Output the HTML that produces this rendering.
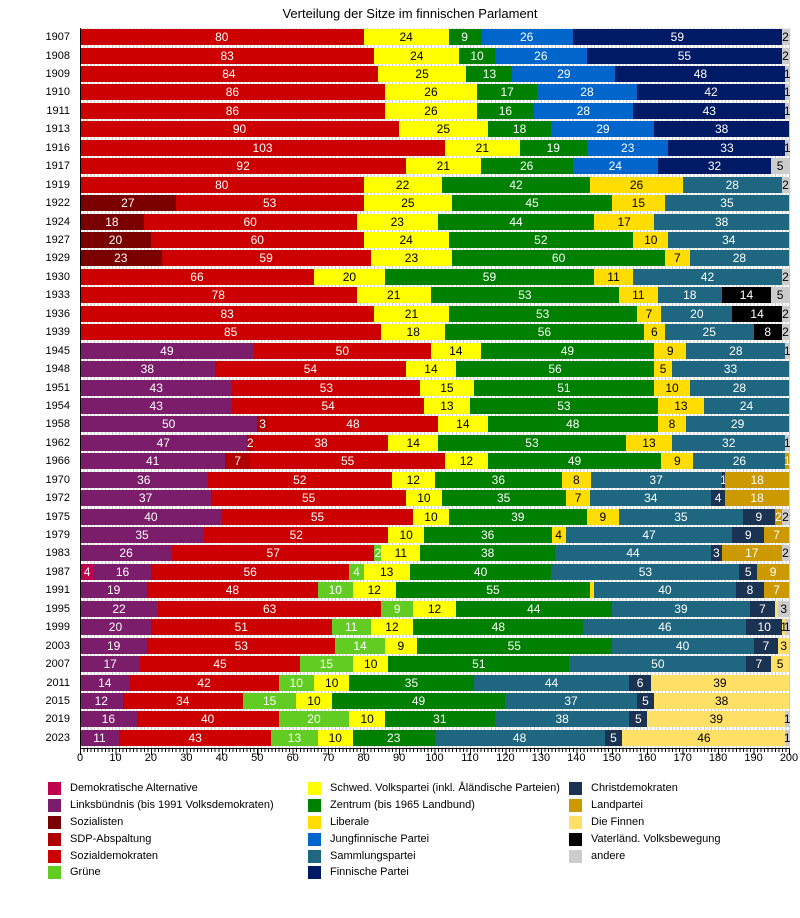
<!DOCTYPE html>
<html><head><meta charset="utf-8">
<style>
body{margin:0;width:800px;height:918px;background:#fff;font-family:"Liberation Sans",sans-serif;position:relative;overflow:hidden}
.t{position:absolute;top:6px;left:0;width:820px;text-align:center;font-size:13px}
.grid{position:absolute;left:80px;top:28px;width:710px;height:720px;background:repeating-linear-gradient(to right,#ccc 0 1px,transparent 1px 3.545px)}
.r{position:absolute;left:80px;width:709px;height:16px;display:flex}
.r i{font-style:normal;flex-basis:0;min-width:0;display:flex;justify-content:center;white-space:nowrap;overflow:visible;font-size:12px;line-height:16px;color:#fff}
.y{position:absolute;right:730px;font-size:11px;line-height:16px;color:#000}
.DA{background:#c0004f}.LB{background:#7b1d6b}.SO{background:#7a0000}.SP{background:#b00000}.SD{background:#cc0000}
.GR{background:#62cc22}.SW{background:#ffff00;color:#000!important}.ZE{background:#008000}.LI{background:#ffdd00;color:#000!important}
.JF{background:#0066cc}.SA{background:#1f6680}.FP{background:#001a66}.CD{background:#1b3352}.LP{background:#cc9900}
.FI{background:#ffe066;color:#000!important}.VV{background:#000}.AN{background:#ccc;color:#000!important}
.ax{position:absolute;left:80px;top:748px;width:710px;height:1px;background:#000}
.mt{position:absolute;left:80px;top:748px;width:712px;height:4px;background:repeating-linear-gradient(to right,#000 0 1px,transparent 1px 3.545px)}
.Mt{position:absolute;left:80px;top:748px;width:712px;height:7px;background:repeating-linear-gradient(to right,#000 0 1px,transparent 1px 35.45px)}
.xl{position:absolute;top:752px;width:30px;margin-left:-15px;text-align:center;font-size:11px}
.lg{position:absolute;font-size:11px;line-height:13px}
.lg b{position:absolute;left:0;top:0;width:13px;height:13px}
.lg span{position:absolute;left:22px;top:0;white-space:nowrap}
</style></head><body>
<div class="t">Verteilung der Sitze im finnischen Parlament</div>
<div class="grid"></div>

<div class="y" style="top:29px">1907</div><div class="r" style="top:29px"><i class="SD" style="flex-grow:80">80</i><i class="SW" style="flex-grow:24">24</i><i class="ZE" style="flex-grow:9">9</i><i class="JF" style="flex-grow:26">26</i><i class="FP" style="flex-grow:59">59</i><i class="AN" style="flex-grow:2">2</i></div>
<div class="y" style="top:47.5px">1908</div><div class="r" style="top:47.5px"><i class="SD" style="flex-grow:83">83</i><i class="SW" style="flex-grow:24">24</i><i class="ZE" style="flex-grow:10">10</i><i class="JF" style="flex-grow:26">26</i><i class="FP" style="flex-grow:55">55</i><i class="AN" style="flex-grow:2">2</i></div>
<div class="y" style="top:66px">1909</div><div class="r" style="top:66px"><i class="SD" style="flex-grow:84">84</i><i class="SW" style="flex-grow:25">25</i><i class="ZE" style="flex-grow:13">13</i><i class="JF" style="flex-grow:29">29</i><i class="FP" style="flex-grow:48">48</i><i class="AN" style="flex-grow:1">1</i></div>
<div class="y" style="top:84.4px">1910</div><div class="r" style="top:84.4px"><i class="SD" style="flex-grow:86">86</i><i class="SW" style="flex-grow:26">26</i><i class="ZE" style="flex-grow:17">17</i><i class="JF" style="flex-grow:28">28</i><i class="FP" style="flex-grow:42">42</i><i class="AN" style="flex-grow:1">1</i></div>
<div class="y" style="top:102.8px">1911</div><div class="r" style="top:102.8px"><i class="SD" style="flex-grow:86">86</i><i class="SW" style="flex-grow:26">26</i><i class="ZE" style="flex-grow:16">16</i><i class="JF" style="flex-grow:28">28</i><i class="FP" style="flex-grow:43">43</i><i class="AN" style="flex-grow:1">1</i></div>
<div class="y" style="top:121.3px">1913</div><div class="r" style="top:121.3px"><i class="SD" style="flex-grow:90">90</i><i class="SW" style="flex-grow:25">25</i><i class="ZE" style="flex-grow:18">18</i><i class="JF" style="flex-grow:29">29</i><i class="FP" style="flex-grow:38">38</i></div>
<div class="y" style="top:139.7px">1916</div><div class="r" style="top:139.7px"><i class="SD" style="flex-grow:103">103</i><i class="SW" style="flex-grow:21">21</i><i class="ZE" style="flex-grow:19">19</i><i class="JF" style="flex-grow:23">23</i><i class="FP" style="flex-grow:33">33</i><i class="AN" style="flex-grow:1">1</i></div>
<div class="y" style="top:158.2px">1917</div><div class="r" style="top:158.2px"><i class="SD" style="flex-grow:92">92</i><i class="SW" style="flex-grow:21">21</i><i class="ZE" style="flex-grow:26">26</i><i class="JF" style="flex-grow:24">24</i><i class="FP" style="flex-grow:32">32</i><i class="AN" style="flex-grow:5">5</i></div>
<div class="y" style="top:176.6px">1919</div><div class="r" style="top:176.6px"><i class="SD" style="flex-grow:80">80</i><i class="SW" style="flex-grow:22">22</i><i class="ZE" style="flex-grow:42">42</i><i class="LI" style="flex-grow:26">26</i><i class="SA" style="flex-grow:28">28</i><i class="AN" style="flex-grow:2">2</i></div>
<div class="y" style="top:195px">1922</div><div class="r" style="top:195px"><i class="SO" style="flex-grow:27">27</i><i class="SD" style="flex-grow:53">53</i><i class="SW" style="flex-grow:25">25</i><i class="ZE" style="flex-grow:45">45</i><i class="LI" style="flex-grow:15">15</i><i class="SA" style="flex-grow:35">35</i></div>
<div class="y" style="top:213.5px">1924</div><div class="r" style="top:213.5px"><i class="SO" style="flex-grow:18">18</i><i class="SD" style="flex-grow:60">60</i><i class="SW" style="flex-grow:23">23</i><i class="ZE" style="flex-grow:44">44</i><i class="LI" style="flex-grow:17">17</i><i class="SA" style="flex-grow:38">38</i></div>
<div class="y" style="top:232px">1927</div><div class="r" style="top:232px"><i class="SO" style="flex-grow:20">20</i><i class="SD" style="flex-grow:60">60</i><i class="SW" style="flex-grow:24">24</i><i class="ZE" style="flex-grow:52">52</i><i class="LI" style="flex-grow:10">10</i><i class="SA" style="flex-grow:34">34</i></div>
<div class="y" style="top:250.4px">1929</div><div class="r" style="top:250.4px"><i class="SO" style="flex-grow:23">23</i><i class="SD" style="flex-grow:59">59</i><i class="SW" style="flex-grow:23">23</i><i class="ZE" style="flex-grow:60">60</i><i class="LI" style="flex-grow:7">7</i><i class="SA" style="flex-grow:28">28</i></div>
<div class="y" style="top:268.8px">1930</div><div class="r" style="top:268.8px"><i class="SD" style="flex-grow:66">66</i><i class="SW" style="flex-grow:20">20</i><i class="ZE" style="flex-grow:59">59</i><i class="LI" style="flex-grow:11">11</i><i class="SA" style="flex-grow:42">42</i><i class="AN" style="flex-grow:2">2</i></div>
<div class="y" style="top:287.3px">1933</div><div class="r" style="top:287.3px"><i class="SD" style="flex-grow:78">78</i><i class="SW" style="flex-grow:21">21</i><i class="ZE" style="flex-grow:53">53</i><i class="LI" style="flex-grow:11">11</i><i class="SA" style="flex-grow:18">18</i><i class="VV" style="flex-grow:14">14</i><i class="AN" style="flex-grow:5">5</i></div>
<div class="y" style="top:305.7px">1936</div><div class="r" style="top:305.7px"><i class="SD" style="flex-grow:83">83</i><i class="SW" style="flex-grow:21">21</i><i class="ZE" style="flex-grow:53">53</i><i class="LI" style="flex-grow:7">7</i><i class="SA" style="flex-grow:20">20</i><i class="VV" style="flex-grow:14">14</i><i class="AN" style="flex-grow:2">2</i></div>
<div class="y" style="top:324.1px">1939</div><div class="r" style="top:324.1px"><i class="SD" style="flex-grow:85">85</i><i class="SW" style="flex-grow:18">18</i><i class="ZE" style="flex-grow:56">56</i><i class="LI" style="flex-grow:6">6</i><i class="SA" style="flex-grow:25">25</i><i class="VV" style="flex-grow:8">8</i><i class="AN" style="flex-grow:2">2</i></div>
<div class="y" style="top:342.6px">1945</div><div class="r" style="top:342.6px"><i class="LB" style="flex-grow:49">49</i><i class="SD" style="flex-grow:50">50</i><i class="SW" style="flex-grow:14">14</i><i class="ZE" style="flex-grow:49">49</i><i class="LI" style="flex-grow:9">9</i><i class="SA" style="flex-grow:28">28</i><i class="AN" style="flex-grow:1">1</i></div>
<div class="y" style="top:361px">1948</div><div class="r" style="top:361px"><i class="LB" style="flex-grow:38">38</i><i class="SD" style="flex-grow:54">54</i><i class="SW" style="flex-grow:14">14</i><i class="ZE" style="flex-grow:56">56</i><i class="LI" style="flex-grow:5">5</i><i class="SA" style="flex-grow:33">33</i></div>
<div class="y" style="top:379.5px">1951</div><div class="r" style="top:379.5px"><i class="LB" style="flex-grow:43">43</i><i class="SD" style="flex-grow:53">53</i><i class="SW" style="flex-grow:15">15</i><i class="ZE" style="flex-grow:51">51</i><i class="LI" style="flex-grow:10">10</i><i class="SA" style="flex-grow:28">28</i></div>
<div class="y" style="top:397.9px">1954</div><div class="r" style="top:397.9px"><i class="LB" style="flex-grow:43">43</i><i class="SD" style="flex-grow:54">54</i><i class="SW" style="flex-grow:13">13</i><i class="ZE" style="flex-grow:53">53</i><i class="LI" style="flex-grow:13">13</i><i class="SA" style="flex-grow:24">24</i></div>
<div class="y" style="top:416.3px">1958</div><div class="r" style="top:416.3px"><i class="LB" style="flex-grow:50">50</i><i class="SP" style="flex-grow:3">3</i><i class="SD" style="flex-grow:48">48</i><i class="SW" style="flex-grow:14">14</i><i class="ZE" style="flex-grow:48">48</i><i class="LI" style="flex-grow:8">8</i><i class="SA" style="flex-grow:29">29</i></div>
<div class="y" style="top:434.8px">1962</div><div class="r" style="top:434.8px"><i class="LB" style="flex-grow:47">47</i><i class="SP" style="flex-grow:2">2</i><i class="SD" style="flex-grow:38">38</i><i class="SW" style="flex-grow:14">14</i><i class="ZE" style="flex-grow:53">53</i><i class="LI" style="flex-grow:13">13</i><i class="SA" style="flex-grow:32">32</i><i class="AN" style="flex-grow:1">1</i></div>
<div class="y" style="top:453.2px">1966</div><div class="r" style="top:453.2px"><i class="LB" style="flex-grow:41">41</i><i class="SP" style="flex-grow:7">7</i><i class="SD" style="flex-grow:55">55</i><i class="SW" style="flex-grow:12">12</i><i class="ZE" style="flex-grow:49">49</i><i class="LI" style="flex-grow:9">9</i><i class="SA" style="flex-grow:26">26</i><i class="LP" style="flex-grow:1">1</i></div>
<div class="y" style="top:471.7px">1970</div><div class="r" style="top:471.7px"><i class="LB" style="flex-grow:36">36</i><i class="SD" style="flex-grow:52">52</i><i class="SW" style="flex-grow:12">12</i><i class="ZE" style="flex-grow:36">36</i><i class="LI" style="flex-grow:8">8</i><i class="SA" style="flex-grow:37">37</i><i class="CD" style="flex-grow:1">1</i><i class="LP" style="flex-grow:18">18</i></div>
<div class="y" style="top:490.1px">1972</div><div class="r" style="top:490.1px"><i class="LB" style="flex-grow:37">37</i><i class="SD" style="flex-grow:55">55</i><i class="SW" style="flex-grow:10">10</i><i class="ZE" style="flex-grow:35">35</i><i class="LI" style="flex-grow:7">7</i><i class="SA" style="flex-grow:34">34</i><i class="CD" style="flex-grow:4">4</i><i class="LP" style="flex-grow:18">18</i></div>
<div class="y" style="top:508.6px">1975</div><div class="r" style="top:508.6px"><i class="LB" style="flex-grow:40">40</i><i class="SD" style="flex-grow:54">55</i><i class="SW" style="flex-grow:10">10</i><i class="ZE" style="flex-grow:39">39</i><i class="LI" style="flex-grow:9">9</i><i class="SA" style="flex-grow:35">35</i><i class="CD" style="flex-grow:9">9</i><i class="LP" style="flex-grow:2">2</i><i class="AN" style="flex-grow:2">2</i></div>
<div class="y" style="top:527px">1979</div><div class="r" style="top:527px"><i class="LB" style="flex-grow:35">35</i><i class="SD" style="flex-grow:52">52</i><i class="SW" style="flex-grow:10">10</i><i class="ZE" style="flex-grow:36">36</i><i class="LI" style="flex-grow:4">4</i><i class="SA" style="flex-grow:47">47</i><i class="CD" style="flex-grow:9">9</i><i class="LP" style="flex-grow:7">7</i></div>
<div class="y" style="top:545.4px">1983</div><div class="r" style="top:545.4px"><i class="LB" style="flex-grow:26">26</i><i class="SD" style="flex-grow:57">57</i><i class="GR" style="flex-grow:2">2</i><i class="SW" style="flex-grow:11">11</i><i class="ZE" style="flex-grow:38">38</i><i class="SA" style="flex-grow:44">44</i><i class="CD" style="flex-grow:3">3</i><i class="LP" style="flex-grow:17">17</i><i class="AN" style="flex-grow:2">2</i></div>
<div class="y" style="top:563.9px">1987</div><div class="r" style="top:563.9px"><i class="DA" style="flex-grow:4">4</i><i class="LB" style="flex-grow:16">16</i><i class="SD" style="flex-grow:56">56</i><i class="GR" style="flex-grow:4">4</i><i class="SW" style="flex-grow:13">13</i><i class="ZE" style="flex-grow:40">40</i><i class="SA" style="flex-grow:53">53</i><i class="CD" style="flex-grow:5">5</i><i class="LP" style="flex-grow:9">9</i></div>
<div class="y" style="top:582.3px">1991</div><div class="r" style="top:582.3px"><i class="LB" style="flex-grow:19">19</i><i class="SD" style="flex-grow:48">48</i><i class="GR" style="flex-grow:10">10</i><i class="SW" style="flex-grow:12">12</i><i class="ZE" style="flex-grow:55">55</i><i class="LI" style="flex-grow:1"></i><i class="SA" style="flex-grow:40">40</i><i class="CD" style="flex-grow:8">8</i><i class="LP" style="flex-grow:7">7</i></div>
<div class="y" style="top:600.8px">1995</div><div class="r" style="top:600.8px"><i class="LB" style="flex-grow:22">22</i><i class="SD" style="flex-grow:63">63</i><i class="GR" style="flex-grow:9">9</i><i class="SW" style="flex-grow:12">12</i><i class="ZE" style="flex-grow:44">44</i><i class="SA" style="flex-grow:39">39</i><i class="CD" style="flex-grow:7">7</i><i class="FI" style="flex-grow:1"></i><i class="AN" style="flex-grow:3">3</i></div>
<div class="y" style="top:619.2px">1999</div><div class="r" style="top:619.2px"><i class="LB" style="flex-grow:20">20</i><i class="SD" style="flex-grow:51">51</i><i class="GR" style="flex-grow:11">11</i><i class="SW" style="flex-grow:12">12</i><i class="ZE" style="flex-grow:48">48</i><i class="SA" style="flex-grow:46">46</i><i class="CD" style="flex-grow:10">10</i><i class="FI" style="flex-grow:1">1</i><i class="AN" style="flex-grow:1">1</i></div>
<div class="y" style="top:637.6px">2003</div><div class="r" style="top:637.6px"><i class="LB" style="flex-grow:19">19</i><i class="SD" style="flex-grow:53">53</i><i class="GR" style="flex-grow:14">14</i><i class="SW" style="flex-grow:9">9</i><i class="ZE" style="flex-grow:55">55</i><i class="SA" style="flex-grow:40">40</i><i class="CD" style="flex-grow:7">7</i><i class="FI" style="flex-grow:3">3</i></div>
<div class="y" style="top:656.1px">2007</div><div class="r" style="top:656.1px"><i class="LB" style="flex-grow:17">17</i><i class="SD" style="flex-grow:45">45</i><i class="GR" style="flex-grow:15">15</i><i class="SW" style="flex-grow:10">10</i><i class="ZE" style="flex-grow:51">51</i><i class="SA" style="flex-grow:50">50</i><i class="CD" style="flex-grow:7">7</i><i class="FI" style="flex-grow:5">5</i></div>
<div class="y" style="top:674.5px">2011</div><div class="r" style="top:674.5px"><i class="LB" style="flex-grow:14">14</i><i class="SD" style="flex-grow:42">42</i><i class="GR" style="flex-grow:10">10</i><i class="SW" style="flex-grow:10">10</i><i class="ZE" style="flex-grow:35">35</i><i class="SA" style="flex-grow:44">44</i><i class="CD" style="flex-grow:6">6</i><i class="FI" style="flex-grow:39">39</i></div>
<div class="y" style="top:693px">2015</div><div class="r" style="top:693px"><i class="LB" style="flex-grow:12">12</i><i class="SD" style="flex-grow:34">34</i><i class="GR" style="flex-grow:15">15</i><i class="SW" style="flex-grow:10">10</i><i class="ZE" style="flex-grow:49">49</i><i class="SA" style="flex-grow:37">37</i><i class="CD" style="flex-grow:5">5</i><i class="FI" style="flex-grow:38">38</i></div>
<div class="y" style="top:711.4px">2019</div><div class="r" style="top:711.4px"><i class="LB" style="flex-grow:16">16</i><i class="SD" style="flex-grow:40">40</i><i class="GR" style="flex-grow:20">20</i><i class="SW" style="flex-grow:10">10</i><i class="ZE" style="flex-grow:31">31</i><i class="SA" style="flex-grow:38">38</i><i class="CD" style="flex-grow:5">5</i><i class="FI" style="flex-grow:39">39</i><i class="AN" style="flex-grow:1">1</i></div>
<div class="y" style="top:729.8px">2023</div><div class="r" style="top:729.8px"><i class="LB" style="flex-grow:11">11</i><i class="SD" style="flex-grow:43">43</i><i class="GR" style="flex-grow:13">13</i><i class="SW" style="flex-grow:10">10</i><i class="ZE" style="flex-grow:23">23</i><i class="SA" style="flex-grow:48">48</i><i class="CD" style="flex-grow:5">5</i><i class="FI" style="flex-grow:46">46</i><i class="AN" style="flex-grow:1">1</i></div>

<div style="position:absolute;left:80px;top:28px;width:1px;height:720px;background:#000"></div>
<div class="ax"></div><div class="mt"></div><div class="Mt"></div>
<div class="xl" style="left:80px">0</div><div class="xl" style="left:115.5px">10</div><div class="xl" style="left:150.9px">20</div><div class="xl" style="left:186.4px">30</div><div class="xl" style="left:221.8px">40</div><div class="xl" style="left:257.3px">50</div><div class="xl" style="left:292.7px">60</div><div class="xl" style="left:328.2px">70</div><div class="xl" style="left:363.6px">80</div><div class="xl" style="left:399.1px">90</div><div class="xl" style="left:434.5px">100</div><div class="xl" style="left:470px">110</div><div class="xl" style="left:505.4px">120</div><div class="xl" style="left:540.9px">130</div><div class="xl" style="left:576.3px">140</div><div class="xl" style="left:611.8px">150</div><div class="xl" style="left:647.2px">160</div><div class="xl" style="left:682.7px">170</div><div class="xl" style="left:718.1px">180</div><div class="xl" style="left:753.6px">190</div><div class="xl" style="left:789px">200</div>

<div class="lg" style="left:48px;top:782px"><b class="DA"></b><span>Demokratische Alternative</span></div>
<div class="lg" style="left:48px;top:799px"><b class="LB"></b><span>Linksbündnis (bis 1991 Volksdemokraten)</span></div>
<div class="lg" style="left:48px;top:816px"><b class="SO"></b><span>Sozialisten</span></div>
<div class="lg" style="left:48px;top:833px"><b class="SP"></b><span>SDP-Abspaltung</span></div>
<div class="lg" style="left:48px;top:850px"><b class="SD"></b><span>Sozialdemokraten</span></div>
<div class="lg" style="left:48px;top:866px"><b class="GR"></b><span>Grüne</span></div>
<div class="lg" style="left:308px;top:782px"><b class="SW"></b><span>Schwed. Volkspartei (inkl. Åländische Parteien)</span></div>
<div class="lg" style="left:308px;top:799px"><b class="ZE"></b><span>Zentrum (bis 1965 Landbund)</span></div>
<div class="lg" style="left:308px;top:816px"><b class="LI"></b><span>Liberale</span></div>
<div class="lg" style="left:308px;top:833px"><b class="JF"></b><span>Jungfinnische Partei</span></div>
<div class="lg" style="left:308px;top:850px"><b class="SA"></b><span>Sammlungspartei</span></div>
<div class="lg" style="left:308px;top:866px"><b class="FP"></b><span>Finnische Partei</span></div>
<div class="lg" style="left:569px;top:782px"><b class="CD"></b><span>Christdemokraten</span></div>
<div class="lg" style="left:569px;top:799px"><b class="LP"></b><span>Landpartei</span></div>
<div class="lg" style="left:569px;top:816px"><b class="FI"></b><span>Die Finnen</span></div>
<div class="lg" style="left:569px;top:833px"><b class="VV"></b><span>Vaterländ. Volksbewegung</span></div>
<div class="lg" style="left:569px;top:850px"><b class="AN"></b><span>andere</span></div>
</body></html>
